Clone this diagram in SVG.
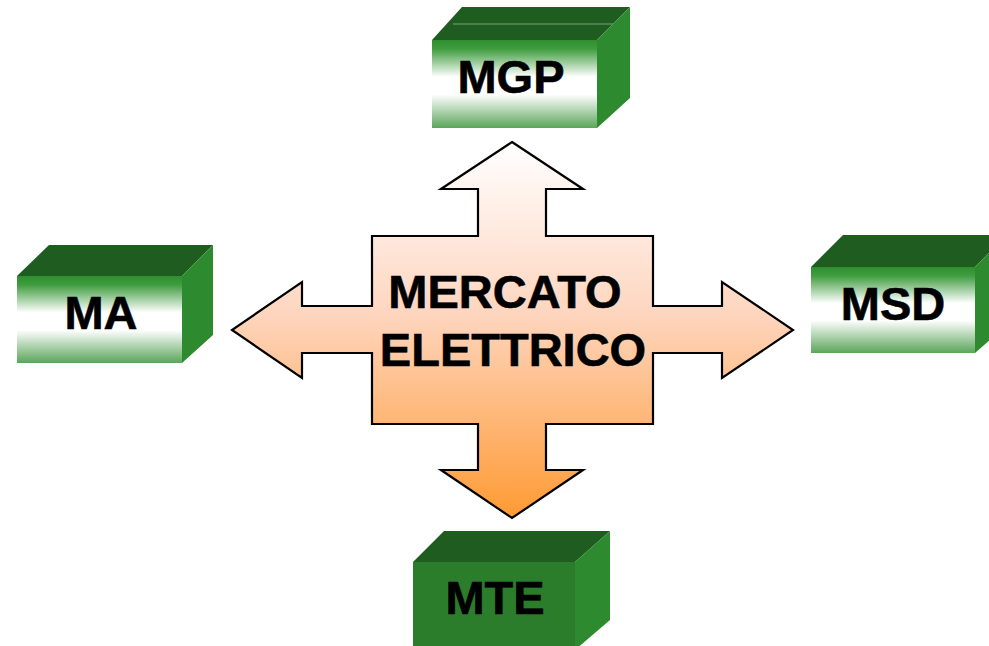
<svg xmlns="http://www.w3.org/2000/svg" width="989" height="646" viewBox="0 0 989 646">
<defs>
<linearGradient id="gFront" x1="0" y1="0" x2="0" y2="1">
<stop offset="0" stop-color="#2f8f2f"/>
<stop offset="0.1" stop-color="#3f9c3f"/>
<stop offset="0.42" stop-color="#ffffff"/>
<stop offset="0.62" stop-color="#ffffff"/>
<stop offset="1" stop-color="#5aa55a"/>
</linearGradient>
<linearGradient id="gArrow" gradientUnits="userSpaceOnUse" x1="0" y1="142" x2="0" y2="518">
<stop offset="0" stop-color="#ffffff"/>
<stop offset="0.45" stop-color="#fed6c0"/>
<stop offset="1" stop-color="#ff9a33"/>
</linearGradient>
</defs>
<style>
.top{fill:#1f5c1f}
.side{fill:#2e8a2e}
.front{fill:url(#gFront)}
.solid{fill:#2b7d2b}
.lbl{font-family:"Liberation Sans",Arial,sans-serif;font-weight:bold;font-size:47px;fill:#000;stroke:#000;stroke-width:0.6px;text-anchor:middle}
.big{font-family:"Liberation Sans",Arial,sans-serif;font-weight:bold;font-size:47px;fill:#000;stroke:#000;stroke-width:0.6px;text-anchor:middle}
</style>
<rect width="989" height="646" fill="#ffffff"/>

<g id="mercato-elettrico">
<path d="M512,142 L583,189 L546,189 L546,236 L653,236 L653,306 L722,306 L722,282 L793,330 L722,378 L722,353 L653,353 L653,424 L546,424 L546,470 L583,470 L512,518 L441,470 L478,470 L478,424 L372,424 L372,353 L302,353 L302,378 L232,330 L302,282 L302,306 L372,306 L372,236 L478,236 L478,189 L441,189 Z" fill="url(#gArrow)" stroke="#000" stroke-width="2.2" stroke-linejoin="miter"/>
<text class="big" x="505" y="308">MERCATO</text>
<text class="big" x="513" y="366">ELETTRICO</text>
</g>

<g id="mgp">
<polygon class="top" points="432,40 597,40 630,7 462,7"/>
<line x1="453" y1="24" x2="630" y2="24" stroke="#7aa57a" stroke-width="1"/>
<polygon class="side" points="597,40 630,7 630,98 597,128"/>
<rect class="front" x="432" y="40" width="165" height="88"/>
<text class="lbl" x="511" y="93">MGP</text>
</g>

<g id="ma">
<polygon class="top" points="17,276 182,276 213,245 49,245"/>
<polygon class="side" points="182,276 213,245 213,335 182,363"/>
<rect class="front" x="17" y="276" width="165" height="87"/>
<text class="lbl" x="101" y="329">MA</text>
</g>

<g id="msd">
<polygon class="top" points="811,267 975,267 1007,235 843,235"/>
<polygon class="side" points="975,267 1007,235 1007,325 975,353"/>
<rect class="front" x="811" y="267" width="164" height="86"/>
<text class="lbl" x="893" y="320">MSD</text>
</g>

<g id="mte">
<polygon class="top" points="413,562 575,562 610,531 444,531"/>
<polygon class="side" points="575,562 610,531 610,620 575,650"/>
<rect class="solid" x="413" y="562" width="162" height="90"/>
<text class="lbl" x="495" y="614">MTE</text>
</g>

<g id="connectors"></g>
</svg>
